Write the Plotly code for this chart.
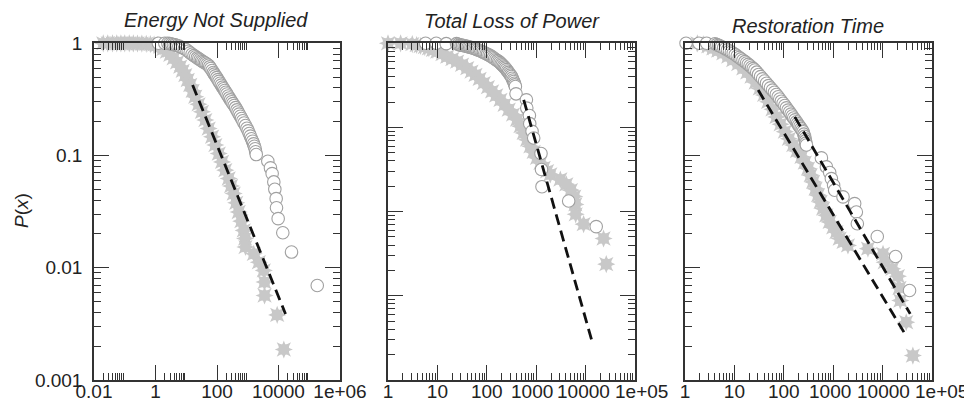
import plotly.graph_objects as go
from plotly.subplots import make_subplots

# ---------------- data ----------------
titles = ["Energy Not Supplied", "Total Loss of Power", "Restoration Time"]

# Energy Not Supplied
ens_star_x = [0.02, 0.028, 0.04, 0.055, 0.075, 0.1, 0.14, 0.19, 0.26, 0.36, 0.5, 0.68, 0.9, 1.15, 1.42,
              1.82, 2.34, 3.02, 3.86, 5.01, 6.37, 7.67, 9.27, 11.2, 13.5, 16.2, 19.6, 25.1, 32.4, 41.7,
              53.5, 69.2, 88.3, 114, 146, 186, 240, 288, 349, 422, 509, 617, 741, 820, 840, 1570, 2290,
              3330, 3500, 3520, 9060, 14900]
ens_star_y = [1.0, 1.0, 1.0, 1.0, 1.0, 1.0, 1.0, 0.998, 0.996, 0.993, 0.99, 0.985, 0.975, 0.966, 0.933,
              0.891, 0.843, 0.791, 0.735, 0.676, 0.619, 0.569, 0.521, 0.471, 0.425, 0.377, 0.334, 0.286,
              0.245, 0.207, 0.174, 0.147, 0.124, 0.104, 0.0877, 0.074, 0.0624, 0.0535, 0.0458, 0.0379,
              0.0314, 0.026, 0.0215, 0.0182, 0.0153, 0.0133, 0.0112, 0.00946, 0.00745, 0.00566, 0.0038,
              0.00187]
ens_circ_x = [1.24, 2.0, 2.51, 2.9, 3.31, 3.8, 4.37, 5.0, 5.75, 6.6, 7.59, 8.7, 10, 11.6, 13.4, 15.5, 17.8,
              20.2, 22.9, 25.5, 28.4, 31.4, 34.7, 38.5, 42.7, 47.5, 52.8, 57.7, 63.1, 69.2, 75.9, 82.2, 89.1,
              98, 107, 116, 126, 138, 151, 164, 178, 194, 210, 230, 251, 275, 302, 331, 363, 402, 445, 483,
              525, 575, 631, 693, 759, 845, 942, 1030, 1120, 1220, 1320, 1430, 1550, 1640, 1740, 1810,
              1890, 4490, 5480, 6210, 7040, 7590, 8390, 8600, 9750, 13800, 26500, 182000]
ens_circ_y = [1.0, 1.0, 1.0, 0.993, 0.986, 0.977, 0.968, 0.956, 0.944, 0.928, 0.912, 0.895, 0.877, 0.85,
              0.822, 0.799, 0.776, 0.758, 0.741, 0.727, 0.713, 0.7, 0.687, 0.675, 0.664, 0.65, 0.637, 0.616,
              0.596, 0.573, 0.55, 0.531, 0.513, 0.494, 0.475, 0.458, 0.441, 0.424, 0.407, 0.393, 0.38, 0.366,
              0.353, 0.339, 0.326, 0.313, 0.301, 0.29, 0.279, 0.267, 0.255, 0.244, 0.234, 0.224, 0.214,
              0.204, 0.195, 0.185, 0.175, 0.166, 0.157, 0.149, 0.141, 0.134, 0.127, 0.121, 0.115, 0.108,
              0.102, 0.089, 0.0776, 0.069, 0.0582, 0.05, 0.0413, 0.0343, 0.0274, 0.0205, 0.0138, 0.00695]
ens_fit_x = [16.1, 16900]
ens_fit_y = [0.425, 0.00388]

# Total Loss of Power
tlp_star_x = [1.0, 1.8, 3.1, 3.8, 4.57, 5.56, 6.73, 8.13, 9.93, 12.6, 15.8, 20.0, 25.1, 31.6, 40.1, 49,
              59, 71.6, 86.9, 105, 128, 155, 189, 229, 278, 339, 410, 479, 558, 653, 762, 891, 1040, 1220,
              1420, 1660, 1930, 3080, 4070, 5050, 5900, 6200, 6300, 9120, 23100, 26200]
tlp_star_y = [1.0, 1.0, 0.98, 0.955, 0.929, 0.902, 0.873, 0.836, 0.796, 0.745, 0.695, 0.65, 0.607, 0.556,
              0.506, 0.462, 0.422, 0.377, 0.337, 0.301, 0.268, 0.24, 0.213, 0.186, 0.163, 0.142, 0.124,
              0.1035, 0.0861, 0.0716, 0.0598, 0.0513, 0.0436, 0.038, 0.0332, 0.0302, 0.0277, 0.0241,
              0.0211, 0.018, 0.0151, 0.0122, 0.0093, 0.0071, 0.0048, 0.00238]
tlp_circ_x = [5.77, 9.47, 15.1, 24.4, 26.3, 28.2, 30.2, 32.4, 34.7, 37.1, 39.6, 42.2, 45, 47.9, 51.2, 54.6,
              58, 61.7, 66, 70.8, 75.5, 80.5, 85.7, 91.2, 97.5, 104, 111, 119, 127, 135, 144, 153, 164,
              175, 185, 195, 205, 216, 227, 238, 250, 263, 275, 288, 301, 315, 327, 339, 350, 361, 370,
              379, 391, 633, 645, 728, 740, 824, 890, 1250, 1280, 1310, 4540, 16400]
tlp_circ_y = [1.0, 1.0, 0.99, 0.99, 0.974, 0.959, 0.951, 0.944, 0.936, 0.929, 0.92, 0.91, 0.9, 0.891, 0.882,
              0.873, 0.86, 0.847, 0.835, 0.822, 0.809, 0.796, 0.781, 0.767, 0.752, 0.738, 0.723, 0.708,
              0.69, 0.673, 0.655, 0.638, 0.622, 0.607, 0.589, 0.571, 0.554, 0.537, 0.521, 0.506, 0.487,
              0.468, 0.451, 0.435, 0.419, 0.404, 0.385, 0.367, 0.351, 0.335, 0.321, 0.307, 0.251, 0.213,
              0.17, 0.139, 0.111, 0.09, 0.075, 0.049, 0.0317, 0.0198, 0.0134, 0.00664]
tlp_fit_x = [559, 13800]
tlp_fit_y = [0.213, 0.000274]

# Restoration Time
rt_star_x = [1.78, 2.34, 2.95, 3.73, 4.68, 5.94, 7.5, 9.46, 11.9, 15.1, 18.2, 22.2, 26.9, 32.7, 39.8, 48.3,
             58.9, 71.1, 86.1, 105, 127, 155, 186, 228, 266, 310, 349, 392, 440, 494, 556, 624, 724, 849,
             1000, 1160, 1350, 1620, 1990, 5050, 10200, 11000, 15700, 20400, 22000, 22800, 30100, 41000]
rt_star_y = [1.0, 0.977, 0.94, 0.902, 0.859, 0.815, 0.762, 0.71, 0.653, 0.598, 0.55, 0.504, 0.447, 0.396,
             0.347, 0.301, 0.258, 0.221, 0.19, 0.163, 0.141, 0.124, 0.11, 0.0973, 0.0863, 0.0766, 0.0668,
             0.0582, 0.0507, 0.0443, 0.0386, 0.0337, 0.0293, 0.0256, 0.0229, 0.0208, 0.0182, 0.017,
             0.0158, 0.0148, 0.0133, 0.0112, 0.0098, 0.0084, 0.0066, 0.0051, 0.00327, 0.00165]
rt_circ_x = [1.05, 1.92, 2.74, 4.04, 4.4, 4.79, 5.13, 5.51, 6.05, 6.61, 7.25, 7.94, 8.67, 9.46, 10.4, 11.4,
             12.5, 13.6, 14.9, 16.3, 17.6, 19.1, 20.7, 22.4, 24.1, 25.9, 28.3, 30.9, 33.9, 37.2, 40.8, 44.7,
             49, 53.7, 59, 64.6, 70.5, 76.9, 82.8, 89.1, 96.8, 105, 113, 122, 131, 140, 149, 158, 169, 180,
             190, 200, 212, 224, 235, 246, 255, 263, 269, 275, 281, 287, 577, 728, 849, 918, 1020, 1070,
             1580, 2720, 2940, 3080, 7800, 18300, 35100]
rt_circ_y = [1.0, 1.0, 1.0, 0.99, 0.974, 0.959, 0.946, 0.933, 0.913, 0.893, 0.873, 0.853, 0.834, 0.815,
             0.792, 0.769, 0.747, 0.726, 0.706, 0.686, 0.667, 0.649, 0.63, 0.612, 0.595, 0.578, 0.553,
             0.528, 0.505, 0.482, 0.461, 0.44, 0.42, 0.401, 0.383, 0.366, 0.35, 0.334, 0.319, 0.305, 0.292,
             0.279, 0.266, 0.254, 0.244, 0.234, 0.225, 0.216, 0.208, 0.2, 0.193, 0.186, 0.18, 0.174, 0.168,
             0.163, 0.155, 0.148, 0.141, 0.135, 0.129, 0.124, 0.0953, 0.0792, 0.0705, 0.0623, 0.0543, 0.049,
             0.0428, 0.0373, 0.0314, 0.0247, 0.019, 0.0126, 0.00628]
rt_fit1_x = [30.3, 27000]
rt_fit1_y = [0.383, 0.00267]
rt_fit2_x = [167, 36200]
rt_fit2_y = [0.221, 0.00388]

# tick labels
ens_tickvals = [0.01, 1, 100, 10000, 1e6]
ens_ticktext = ["0.01", "1", "100", "10000", "1e+06"]
dec_tickvals = [1, 10, 100, 1000, 10000, 1e5]
dec_ticktext = ["1", "10", "100", "1000", "10000", "1e+05"]
p_tickvals = [0.001, 0.01, 0.1, 1]
p_ticktext = ["0.001", "0.01", "0.1", "1"]

STAR = "#c8c8c8"
RING = "#a0a0a0"
INK = "#333333"

fig = make_subplots(rows=1, cols=3)


def add_panel(col, sx, sy, cx, cy, fits):
    # 8-point burst = star-square + star-diamond on the same points
    for sym in ["star-square", "star-diamond"]:
        fig.add_trace(go.Scatter(x=sx, y=sy, mode="markers", cliponaxis=False,
                                 marker=dict(symbol=sym, size=13, color=STAR, line=dict(width=0))),
                      row=1, col=col)
    fig.add_trace(go.Scatter(x=cx, y=cy, mode="markers", cliponaxis=False,
                             marker=dict(symbol="circle", size=12.5, color="white",
                                         line=dict(color=RING, width=1.1))),
                  row=1, col=col)
    for fx, fy in fits:
        fig.add_trace(go.Scatter(x=fx, y=fy, mode="lines",
                                 line=dict(color="#111", width=2.8, dash="11px,6px")),
                      row=1, col=col)


add_panel(1, ens_star_x, ens_star_y, ens_circ_x, ens_circ_y, [(ens_fit_x, ens_fit_y)])
add_panel(2, tlp_star_x, tlp_star_y, tlp_circ_x, tlp_circ_y, [(tlp_fit_x, tlp_fit_y)])
add_panel(3, rt_star_x, rt_star_y, rt_circ_x, rt_circ_y, [(rt_fit1_x, rt_fit1_y), (rt_fit2_x, rt_fit2_y)])

# the page body has an 8px margin, so the figure is drawn 8px smaller and positions are shifted
OFF = 8
W, H = 972 - OFF, 407 - OFF


def fx_(p):
    return (p - OFF) / W


def fy_(p):
    return 1 - (p - OFF) / H


axis_style = dict(type="log", showline=True, linecolor=INK, linewidth=1.5, mirror="allticks",
                  ticks="inside", ticklen=15, tickwidth=1.2, tickcolor=INK, automargin=False,
                  tickangle=0, showgrid=False, zeroline=False, tickfont=dict(size=19, color="#222"))


def minors(bases):
    return [k * b for b in bases for k in range(2, 10)]


x_domains = [(94, 340), (388, 635), (685, 932)]
y_dom = [fy_(380), fy_(43.3)]

fig.update_xaxes(**axis_style)
fig.update_yaxes(**axis_style)
fig.update_xaxes(ticklabelstandoff=-7)

fig.update_xaxes(domain=[fx_(x_domains[0][0]), fx_(x_domains[0][1])], range=[-2, 6],
                 tickvals=ens_tickvals, ticktext=ens_ticktext,
                 minor=dict(tickvals=minors([0.01, 1, 100, 10000]), ticks="inside", ticklen=7,
                            tickwidth=1.2, tickcolor=INK),
                 row=1, col=1)

# the crowded right-hand labels are spread sideways in the original, so those are set as annotations
shown = dec_ticktext[:3] + ["", "", ""]
for col in (2, 3):
    fig.update_xaxes(domain=[fx_(x_domains[col - 1][0]), fx_(x_domains[col - 1][1])], range=[0, 5],
                     tickvals=dec_tickvals, ticktext=shown,
                     minor=dict(tickvals=minors([1, 10, 100, 1000, 10000]), ticks="inside", ticklen=7,
                                tickwidth=1.2, tickcolor=INK),
                     row=1, col=col)

fig.update_yaxes(domain=y_dom, range=[-3, 0], tickvals=p_tickvals, ticktext=p_ticktext,
                 ticklabelstandoff=6,
                 minor=dict(tickvals=minors([0.001, 0.01, 0.1]), ticks="inside", ticklen=7,
                            tickwidth=1.2, tickcolor=INK),
                 row=1, col=1)
fig.update_yaxes(domain=y_dom, range=[-4, 0], tickvals=[0.0001, 0.001, 0.01, 0.1, 1], showticklabels=False,
                 minor=dict(tickvals=minors([0.0001, 0.001, 0.01, 0.1]), ticks="inside", ticklen=7,
                            tickwidth=1.2, tickcolor=INK),
                 row=1, col=2)
fig.update_yaxes(domain=y_dom, range=[-3, 0], tickvals=p_tickvals, showticklabels=False,
                 minor=dict(tickvals=minors([0.001, 0.01, 0.1]), ticks="inside", ticklen=7,
                            tickwidth=1.2, tickcolor=INK),
                 row=1, col=3)

end_label_px = [(532, 583, 641), (830, 883, 941)]
for pxs in end_label_px:
    for txt, px in zip(dec_ticktext[3:], pxs):
        fig.add_annotation(text=txt, xref="paper", yref="paper", x=fx_(px), y=fy_(391.5),
                           xanchor="center", yanchor="middle", showarrow=False,
                           font=dict(size=19, color="#222"))

title_pos = [(216, 20), (512, 21), (808, 26)]
for t, (px, py) in zip(titles, title_pos):
    fig.add_annotation(text="<i>" + t + "</i>", xref="paper", yref="paper", x=fx_(px), y=fy_(py),
                       xanchor="center", yanchor="middle", showarrow=False,
                       font=dict(size=20, color="#222"))

fig.add_annotation(text="<i>P</i>(<i>x</i>)", xref="paper", yref="paper", x=fx_(21), y=fy_(211),
                   xanchor="center", yanchor="middle", textangle=-90, showarrow=False,
                   font=dict(size=19, color="#222"))

fig.update_layout(width=W, height=H, margin=dict(l=0, r=0, t=0, b=0), showlegend=False,
                  paper_bgcolor="white", plot_bgcolor="white",
                  font=dict(family="Liberation Sans, Arial, sans-serif", size=18, color="#222"))

fig.write_html("out.html")
